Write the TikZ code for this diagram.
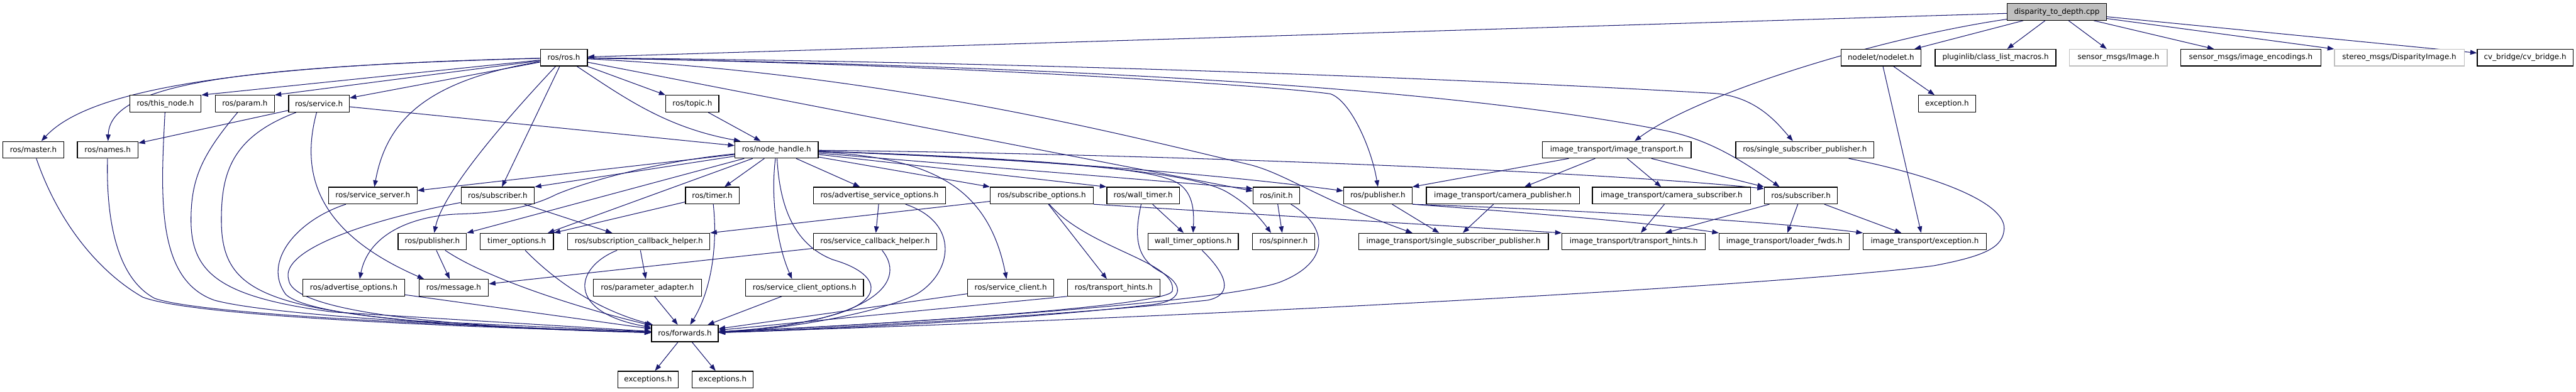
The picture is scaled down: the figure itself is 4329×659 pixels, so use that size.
\documentclass[tikz,border=0pt]{standalone}
\usepackage{fontspec}
\setmainfont{DejaVu Sans}
\usetikzlibrary{arrows.meta,backgrounds}
\definecolor{edgec}{RGB}{25,25,112}
\definecolor{rootgray}{RGB}{191,191,191}
\definecolor{missgray}{RGB}{191,191,191}
\tikzset{
  box/.style={draw=black, fill=white, line width=1.3pt, minimum height=28pt, inner sep=0pt,
    font=\fontsize{12.6pt}{15pt}\selectfont, text=black},
  rootbox/.style={box, fill=rootgray},
  missbox/.style={box, draw=missgray},
  e/.style={draw=edgec, line width=1.1pt, -{Triangle[length=11pt,width=8pt]}}
}
\begin{document}
\begin{tikzpicture}[x=1pt,y=-1pt]
\useasboundingbox (0,0) rectangle (4329,659);
% ---- nodes ----
\node[rootbox, minimum width=167pt] (root) at (3456.5,20) {disparity\_to\_depth.cpp};
\node[box, minimum width=79pt] (rosros) at (947.5,97) {ros/ros.h};
\node[box, minimum width=134pt] (nodelet) at (3161,97) {nodelet/nodelet.h};
\node[box, minimum width=203pt] (pluginlib) at (3353.5,97) {pluginlib/class\_list\_macros.h};
\node[missbox, minimum width=164pt] (smimg) at (3560,97) {sensor\_msgs/Image.h};
\node[box, minimum width=235pt] (smenc) at (3782.5,97) {sensor\_msgs/image\_encodings.h};
\node[missbox, minimum width=218pt] (stereo) at (4032,97) {stereo\_msgs/DisparityImage.h};
\node[box, minimum width=161pt] (cvb) at (4243.5,97) {cv\_bridge/cv\_bridge.h};

\node[box, minimum width=120pt] (thisnode) at (278,174.5) {ros/this\_node.h};
\node[box, minimum width=99pt] (param) at (411.5,174.5) {ros/param.h};
\node[box, minimum width=102pt] (service) at (536,174.5) {ros/service.h};
\node[box, minimum width=89pt] (topic) at (1163.5,174.5) {ros/topic.h};
\node[box, minimum width=96pt] (exception) at (3272,174.5) {exception.h};

\node[box, minimum width=102pt] (master) at (56,252) {ros/master.h};
\node[box, minimum width=102pt] (names) at (181,252) {ros/names.h};
\node[box, minimum width=140pt] (nh) at (1305,252) {ros/node\_handle.h};
\node[box, minimum width=250pt] (itit) at (2717,252) {image\_transport/image\_transport.h};
\node[box, minimum width=232pt] (rssp) at (3033,252) {ros/single\_subscriber\_publisher.h};

\node[box, minimum width=149pt] (ssrv) at (626.5,329) {ros/service\_server.h};
\node[box, minimum width=123pt] (sub1) at (836.5,329) {ros/subscriber.h};
\node[box, minimum width=90pt] (timer) at (1197,329) {ros/timer.h};
\node[box, minimum width=222pt] (aso) at (1478,329) {ros/advertise\_service\_options.h};
\node[box, minimum width=173pt] (subopt) at (1750.5,329) {ros/subscribe\_options.h};
\node[box, minimum width=122pt] (wtimer) at (1921,329) {ros/wall\_timer.h};
\node[box, minimum width=78pt] (init) at (2145,329) {ros/init.h};
\node[box, minimum width=115pt] (pub1) at (2315.5,329) {ros/publisher.h};
\node[box, minimum width=257pt] (itcp) at (2525.5,329) {image\_transport/camera\_publisher.h};
\node[box, minimum width=266pt] (itcs) at (2809,329) {image\_transport/camera\_subscriber.h};
\node[box, minimum width=123pt] (sub2) at (3026.5,329) {ros/subscriber.h};

\node[box, minimum width=115pt] (pub2) at (726.5,406.5) {ros/publisher.h};
\node[box, minimum width=123pt] (topt) at (868.5,406.5) {timer\_options.h};
\node[box, minimum width=239pt] (sch) at (1073.5,406.5) {ros/subscription\_callback\_helper.h};
\node[box, minimum width=207pt] (svcch) at (1470.5,406.5) {ros/service\_callback\_helper.h};
\node[box, minimum width=152pt] (wtopt) at (2005,406.5) {wall\_timer\_options.h};
\node[box, minimum width=104pt] (spinner) at (2157,406.5) {ros/spinner.h};
\node[box, minimum width=319pt] (itssp) at (2442.5,406.5) {image\_transport/single\_subscriber\_publisher.h};
\node[box, minimum width=241pt] (itth) at (2745.5,406.5) {image\_transport/transport\_hints.h};
\node[box, minimum width=219pt] (itlf) at (2998.5,406.5) {image\_transport/loader\_fwds.h};
\node[box, minimum width=207pt] (itex) at (3234.5,406.5) {image\_transport/exception.h};

\node[box, minimum width=171pt] (advopt) at (594.5,484) {ros/advertise\_options.h};
\node[box, minimum width=117pt] (msg) at (762.5,484) {ros/message.h};
\node[box, minimum width=182pt] (padapt) at (1088,484) {ros/parameter\_adapter.h};
\node[box, minimum width=198pt] (sco) at (1352,484) {ros/service\_client\_options.h};
\node[box, minimum width=145pt] (sclient) at (1698.5,484) {ros/service\_client.h};
\node[box, minimum width=155pt] (rth) at (1871.5,484) {ros/transport\_hints.h};

\node[box, minimum width=112pt] (fwd) at (1151,561) {ros/forwards.h};
\node[box, minimum width=102pt] (exc1) at (1089,638.5) {exceptions.h};
\node[box, minimum width=103pt] (exc2) at (1214.5,638.5) {exceptions.h};

% ---- edges ----
\begin{pgfonlayer}{background}
\fill[white] (0,0) rectangle (4329,659);
% root
\draw[e] (root) -- (rosros);
\draw[e] (root) .. controls (3150,65) and (2850,160) .. ([xshift=30pt]itit.north);
\draw[e] (root) -- (nodelet);
\draw[e] (root) -- (pluginlib);
\draw[e] (root) -- (smimg);
\draw[e] (root) -- (smenc);
\draw[e] (root) -- (stereo);
\draw[e] (root) -- (cvb);
% ros/ros.h
\draw[e] (rosros) .. controls (400,110) and (150,150) .. (master);
\draw[e] (rosros) .. controls (400,112) and (185,140) .. (names);
\draw[e] (rosros) -- (thisnode.north east);
\draw[e] (rosros) -- (param.north east);
\draw[e] (rosros) -- (service);
\draw[e] (rosros) .. controls (720,135) and (650,200) .. (ssrv);
\draw[e] (rosros) .. controls (860,190) and (745,320) .. (pub2);
\draw[e] (rosros) -- (sub1);
\draw[e] (rosros) -- (topic.north west);
\draw[e] (rosros) .. controls (1050,165) and (1120,215) .. ([xshift=10pt]nh.north west);
\draw[e] (rosros) .. controls (1800,105) and (2500,135) .. (2880,157) .. controls (2950,162) and (2985,205) .. ([xshift=-20pt]rssp.north);
\draw[e] (rosros) .. controls (1600,108) and (2150,145) .. (2236,158) .. controls (2270,170) and (2305,250) .. (pub1.north);
\draw[e] (rosros) .. controls (1700,110) and (2400,140) .. (2800,220) .. controls (2870,235) and (2920,265) .. ([xshift=-36pt]sub2.north);
\draw[e] (rosros) .. controls (1500,125) and (1900,230) .. (2100,277) .. controls (2160,292) and (2215,335) .. ([xshift=-69pt]itssp.north);
\draw[e] (rosros) -- (init);
% ros/service.h
\draw[e] (service) -- (names);
\draw[e] (service) -- (nh);
\draw[e] (service) .. controls (505,290) and (530,390) .. ([xshift=-50pt]msg.north);
\draw[e] (service) .. controls (390,230) and (372,290) .. (372,370) .. controls (372,480) and (430,515) .. (700,540) -- (fwd);
% left column to forwards
\draw[e] (thisnode) .. controls (270,330) and (262,470) .. (360,505) .. controls (450,530) and (800,550) .. (fwd);
\draw[e] (param) .. controls (340,260) and (321,300) .. (321,370) .. controls (321,460) and (370,500) .. (560,525) -- (fwd);
\draw[e] (master) .. controls (100,380) and (170,460) .. (240,500) .. controls (320,530) and (700,548) .. (fwd);
\draw[e] (names) .. controls (178,380) and (200,470) .. (260,502) .. controls (330,527) and (700,546) .. (fwd);
\draw[e] (ssrv) .. controls (500,370) and (440,440) .. (480,495) .. controls (520,535) and (800,552) .. (fwd);
\draw[e] (sub1) .. controls (620,370) and (470,420) .. (485,470) .. controls (490,530) and (800,552) .. (fwd);
\draw[e] (sub1) -- (sch);
\draw[e] (pub2) -- (msg);
\draw[e] (pub2) .. controls (820,470) and (980,520) .. (fwd);
\draw[e] (advopt) -- (fwd);
\draw[e] (topt) .. controls (930,470) and (1000,520) .. (fwd);
\draw[e] (sch) .. controls (965,450) and (950,525) .. (fwd);
\draw[e] (sch) -- (padapt);
\draw[e] (padapt) -- (fwd);
\draw[e] (timer) .. controls (1205,400) and (1200,480) .. (fwd);
\draw[e] (timer) -- (topt.north east);
\draw[e] (topic) -- (nh);
% ros/node_handle.h
\draw[e] (nh) -- ([xshift=-10pt]topt.north east);
\draw[e] (nh) -- (timer);
\draw[e] (nh) -- (pub2.north east);
\draw[e] (nh) -- (ssrv);
\draw[e] (nh) -- (sub1.north east);
\draw[e] (nh) .. controls (1120,270) and (1000,300) .. (935,327) .. controls (900,345) and (850,358) .. (773,360) .. controls (700,362) and (620,390) .. ([xshift=10pt]advopt.north);
\draw[e] (nh) .. controls (1310,340) and (1330,410) .. (1400,437) .. controls (1480,460) and (1490,505) .. (1400,530) .. controls (1330,550) and (1250,556) .. (fwd);
\draw[e] (nh) .. controls (1295,330) and (1305,410) .. ([xshift=-21pt]sco.north);
\draw[e] (nh) -- (aso);
\draw[e] (nh) -- (subopt.north west);
\draw[e] (nh) -- (wtimer.north west);
\draw[e] (nh) .. controls (1560,265) and (1660,310) .. ([xshift=-7pt]sclient.north);
\draw[e] (nh) .. controls (1700,265) and (1900,280) .. (1960,300) .. controls (2005,312) and (2007,350) .. (wtopt.north);
\draw[e] (nh) -- ([yshift=-3pt]init.north west);
\draw[e] (nh) .. controls (1800,270) and (2000,290) .. (2060,322) .. controls (2100,345) and (2120,370) .. ([xshift=-21pt]spinner.north);
\draw[e] (nh) .. controls (1800,270) and (2100,300) .. (pub1);
\draw[e] (nh) .. controls (2000,260) and (2700,290) .. ([yshift=-3pt]sub2.north west);
% middle
\draw[e] (aso) -- (svcch);
\draw[e] (aso) .. controls (1615,375) and (1600,460) .. (1540,495) .. controls (1470,530) and (1300,556) .. (fwd);
\draw[e] (svcch) -- (msg);
\draw[e] (svcch) .. controls (1530,480) and (1450,545) .. (fwd);
\draw[e] (subopt) -- (sch.north east);
\draw[e] (subopt) -- (rth);
\draw[e] (subopt.south east) -- (itth.north west);
\draw[e] (subopt) .. controls (1830,420) and (1980,440) .. (1970,490) .. controls (1960,515) and (1500,545) .. (fwd);
\draw[e] (wtimer) -- (wtopt);
\draw[e] (wtimer) .. controls (1905,400) and (1910,435) .. (1950,457) .. controls (1990,478) and (1990,505) .. (1940,512) .. controls (1700,540) and (1350,556) .. (fwd);
\draw[e] (wtopt) .. controls (2060,460) and (2075,495) .. (2030,505) .. controls (1800,530) and (1350,555) .. (fwd);
\draw[e] (init) -- (spinner);
\draw[e] (init) .. controls (2230,380) and (2240,440) .. (2150,475) .. controls (2050,510) and (1500,545) .. (fwd);
\draw[e] (sclient) -- (fwd);
\draw[e] (rth.south west) -- (fwd);
\draw[e] (sco) -- (fwd);
\draw[e] (rssp) .. controls (3250,295) and (3370,340) .. (3368,385) .. controls (3366,415) and (3340,430) .. (3250,447) .. controls (3000,480) and (2000,535) .. (fwd);
% image_transport
\draw[e] (itit) -- (pub1.north east);
\draw[e] (itit) -- (itcp);
\draw[e] (itit) -- (itcs);
\draw[e] (itit) -- (sub2.north west);
\draw[e] (itcp) -- (itssp);
\draw[e] (itcs) -- (itth);
\draw[e] (pub1) -- (itssp);
\draw[e] (pub1.south east) .. controls (2600,360) and (2800,378) .. (itlf.north west);
\draw[e] (pub1.south east) .. controls (2700,355) and (3000,375) .. (itex.north west);
\draw[e] (sub2) -- (itth);
\draw[e] (sub2) -- (itlf);
\draw[e] (sub2) -- (itex);
\draw[e] (nodelet) -- (exception);
\draw[e] (nodelet) -- ([xshift=-6pt]itex.north);
% forwards
\draw[e] (fwd) -- (exc1);
\draw[e] (fwd) -- (exc2);
\end{pgfonlayer}
\end{tikzpicture}
\end{document}
